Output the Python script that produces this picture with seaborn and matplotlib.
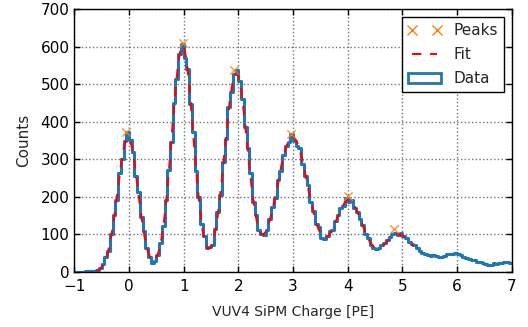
import seaborn as sns
import matplotlib.pyplot as plt
import pandas as pd
import numpy as np
from matplotlib.lines import Line2D
from matplotlib.patches import Patch

# Histogram of SiPM charge, bins of 0.05 PE from -1 to 7
bin_edges = np.round(np.arange(-1.0, 7.0001, 0.05), 3)
counts = [
    0, 0, 0, 0, 1, 1, 2, 3, 5, 10, 20, 38, 55, 100, 152, 190, 262, 300, 350, 372,
    352, 318, 256, 212, 146, 108, 62, 40, 24, 28, 44, 76, 122, 190, 270, 345, 450, 515, 582, 608,
    570, 540, 448, 372, 268, 200, 128, 95, 62, 66, 72, 115, 160, 205, 292, 355, 440, 480, 528, 538,
    510, 460, 385, 330, 262, 185, 150, 110, 100, 98, 112, 140, 172, 196, 245, 268, 312, 335, 345, 368,
    350, 335, 330, 288, 255, 232, 185, 162, 128, 118, 90, 86, 95, 108, 112, 135, 152, 170, 175, 196,
    185, 192, 170, 158, 140, 125, 100, 90, 72, 62, 61, 64, 70, 76, 85, 92, 100, 103, 98, 104,
    96, 90, 80, 74, 70, 62, 55, 50, 47, 44, 43, 45, 41, 38, 40, 42, 46, 48, 46, 50,
    47, 44, 40, 36, 34, 31, 30, 27, 25, 22, 20, 18, 19, 22, 21, 24, 23, 25, 27, 22,
]
bin_centers = (bin_edges[:-1] + bin_edges[1:]) / 2

# Fit curve sampled every 0.05 PE from -0.6 to 5.2
fit_x = np.round(np.arange(-0.60, 5.2001, 0.05), 2)
fit_y = [
    3, 6, 12, 24, 44, 73, 115, 166, 224, 281, 328, 355,
    358, 335, 292, 236, 178, 124, 82, 52, 35, 29, 36, 56, 92, 145, 216, 302, 395, 484, 556, 598,
    602, 567, 501, 414, 321, 234, 161, 108, 75, 61, 65, 87, 126, 180, 247, 322, 397, 462, 509, 530,
    522, 485, 428, 357, 285, 218, 164, 126, 104, 98, 106, 124, 151, 183, 219, 256, 291, 320, 343, 357,
    360, 352, 335, 310, 278, 243, 207, 174, 144, 120, 102, 93, 91, 96, 107, 122, 140, 158, 173, 185,
    191, 190, 182, 169, 152, 133, 114, 96, 81, 70, 64, 63, 65, 71, 78, 86, 93, 98, 100, 100,
    96, 89, 82, 75, 68,
]

# Peak positions found
peak_x = [-0.05, 0.98, 1.92, 2.96, 4.0, 4.84]
peak_y = [374, 610, 537, 368, 203, 114]

hist_df = pd.DataFrame({'charge': bin_centers, 'counts': counts})
fit_df = pd.DataFrame({'charge': fit_x, 'fit': fit_y})
peak_df = pd.DataFrame({'charge': peak_x, 'counts': peak_y})

blue = '#1f77b4'
orange = '#ff7f0e'
red = '#ff0000'

sns.set_style("ticks")
plt.rcParams['font.family'] = ['DejaVu Sans']
plt.rcParams['xtick.direction'] = 'in'
plt.rcParams['ytick.direction'] = 'in'
plt.rcParams['xtick.top'] = True
plt.rcParams['ytick.right'] = True

fig = plt.figure(figsize=(5.28, 3.27), dpi=100)
ax = fig.add_axes([74.3 / 528, 1 - 271.7 / 327, (511.7 - 74.3) / 528, (271.7 - 9.3) / 327])

sns.histplot(data=hist_df, x='charge', weights='counts', bins=list(bin_edges), element="step",
             fill=False, color=blue, linewidth=2.2, ax=ax, zorder=2)
sns.lineplot(data=fit_df, x='charge', y='fit', color=red, linewidth=1.5,
             linestyle=(0, (4.5, 4.2)), ax=ax, zorder=3)
sns.scatterplot(data=peak_df, x='charge', y='counts', marker='x', color=orange, s=36,
                linewidth=1, alpha=0.85, ax=ax, zorder=4)

ax.set_xlim(-1, 7)
ax.set_ylim(0, 700)
ax.set_xticks(range(-1, 8))
ax.set_yticks(range(0, 701, 100))
ax.tick_params(length=4.5, width=1, labelsize=11, colors='black')
ax.tick_params(axis='x', pad=5)
ax.grid(True, color='0.45', linestyle=':', linewidth=1)
ax.set_axisbelow(True)
for s in ax.spines.values():
    s.set_color('black')
    s.set_linewidth(1)

ax.set_xlabel('VUV4 SiPM Charge [PE]', fontsize=10, labelpad=8)
ax.set_ylabel('Counts', fontsize=11, labelpad=7)

handles = [
    Line2D([], [], marker='x', linestyle='none', color=orange, markersize=7, markeredgewidth=1),
    Line2D([], [], color=red, linewidth=1.5, linestyle=(0, (4.5, 4.2))),
    Patch(facecolor='white', edgecolor=blue, linewidth=2),
]
leg = ax.legend(handles, ['Peaks', 'Fit', 'Data'], loc='upper right', numpoints=2,
                fancybox=False, framealpha=1, edgecolor='black', fontsize=11,
                handlelength=2.2, borderaxespad=0.5, labelspacing=0.6)
leg.get_frame().set_linewidth(1)

fig.savefig('out.png', dpi=100)
